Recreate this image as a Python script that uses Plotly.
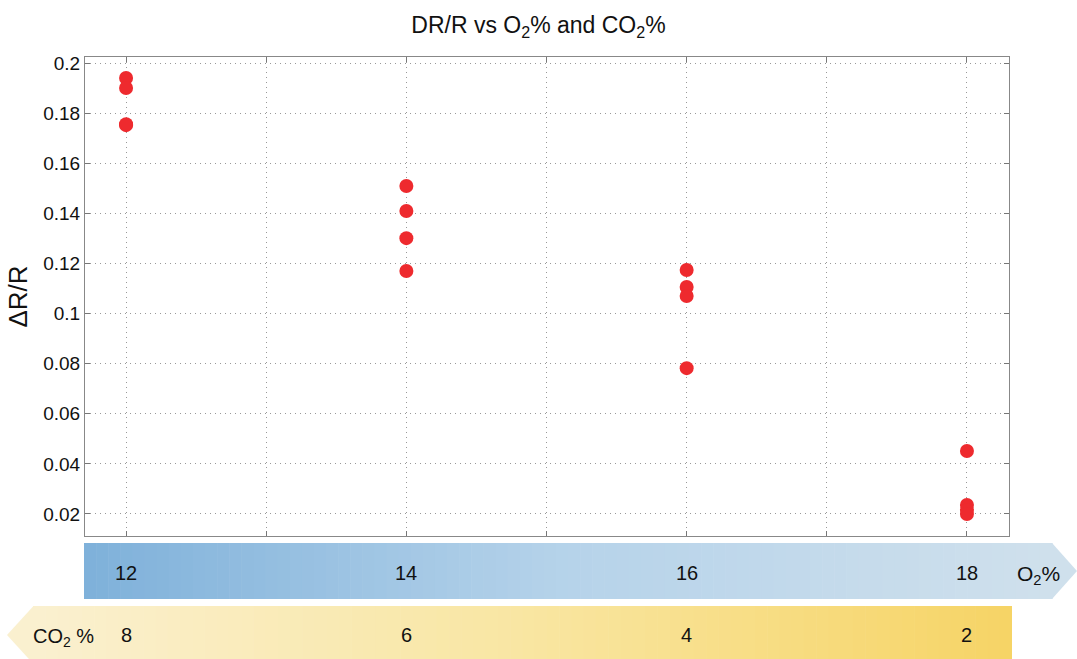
import plotly.graph_objects as go

# ---- data ----
o2_levels = [12, 12, 12, 12, 14, 14, 14, 14, 16, 16, 16, 16, 18, 18, 18, 18]
dr_r = [0.194, 0.190, 0.1752, 0.1756,
        0.1509, 0.1409, 0.1301, 0.1170,
        0.1174, 0.1106, 0.1070, 0.0782,
        0.0451, 0.0236, 0.0216, 0.0200]
o2_ticks = [12, 14, 16, 18]
co2_labels = ["8", "6", "4", "2"]
y_ticks = [0.02, 0.04, 0.06, 0.08, 0.1, 0.12, 0.14, 0.16, 0.18, 0.2]
y_ticktext = ["0.02", "0.04", "0.06", "0.08", "0.1", "0.12", "0.14", "0.16", "0.18", "0.2"]

W, H = 1077, 659
L, R, T, B = 85, 1009, 57, 536


def px(x):
    return (x - L) / (R - L)


def py(y):
    return (B - y) / (B - T)


def lerp_color(c1, c2, t):
    a = [int(c1[i:i + 2], 16) for i in (1, 3, 5)]
    b = [int(c2[i:i + 2], 16) for i in (1, 3, 5)]
    return "rgb(%d,%d,%d)" % tuple(round(a[k] + (b[k] - a[k]) * t) for k in range(3))


def grad3(cl, cm, cr, t):
    if t < 0.5:
        return lerp_color(cl, cm, t * 2)
    return lerp_color(cm, cr, (t - 0.5) * 2)


fig = go.Figure()
fig.add_trace(go.Scatter(
    x=o2_levels, y=dr_r, mode="markers",
    marker=dict(size=14, color="#ee2a2e", line=dict(width=0)),
    showlegend=False, hoverinfo="x+y"))

shapes = []
N = 80
# O2 bar (arrow to right)
x0, x1, tip = 84, 1052, 1077
yt, yb = 543, 599
for i in range(N):
    a = x0 + (x1 - x0) * i / N
    b = x0 + (x1 - x0) * (i + 1) / N + 0.6
    c = grad3("#7fb1da", "#b6d3ea", "#cfe0ec", i / (N - 1))
    shapes.append(dict(type="rect", xref="paper", yref="paper",
                       x0=px(a), x1=px(b), y0=py(yb), y1=py(yt),
                       fillcolor=c, line=dict(width=0), layer="above"))
shapes.append(dict(type="path", xref="paper", yref="paper",
                   path="M %f,%f L %f,%f L %f,%f Z" % (px(x1), py(yt), px(tip), py((yt + yb) / 2), px(x1), py(yb)),
                   fillcolor="#cfe0ec", line=dict(width=0), layer="above"))

# CO2 bar (arrow to left)
cx0, cx1, ctip = 33, 1012, 7
ct, cb = 606, 664
for i in range(N):
    a = cx0 + (cx1 - cx0) * i / N
    b = cx0 + (cx1 - cx0) * (i + 1) / N + 0.6
    c = grad3("#faf0cf", "#f9e6a2", "#f6d466", i / (N - 1))
    shapes.append(dict(type="rect", xref="paper", yref="paper",
                       x0=px(a), x1=px(min(b, cx1)), y0=py(cb), y1=py(ct),
                       fillcolor=c, line=dict(width=0), layer="above"))
shapes.append(dict(type="path", xref="paper", yref="paper",
                   path="M %f,%f L %f,%f L %f,%f Z" % (px(cx0 + 0.5), py(ct), px(ctip), py((ct + cb) / 2), px(cx0 + 0.5), py(cb)),
                   fillcolor="#faf0cf", line=dict(width=0), layer="above"))

annotations = []
for v in o2_ticks:
    annotations.append(dict(x=v, y=py(573), xref="x", yref="paper", text=str(v),
                            xanchor="center", yanchor="middle",
                            showarrow=False, font=dict(size=20, color="#111")))
for v, lab in zip(o2_ticks, co2_labels):
    annotations.append(dict(x=v, y=py(635), xref="x", yref="paper", text=lab,
                            xanchor="center", yanchor="middle",
                            showarrow=False, font=dict(size=20, color="#111")))
annotations.append(dict(x=px(1038), y=py(575), xref="paper", yref="paper",
                        xanchor="center", yanchor="middle",
                        text="O<sub>2</sub>%", showarrow=False, font=dict(size=21, color="#111")))
annotations.append(dict(x=px(63), y=py(637), xref="paper", yref="paper",
                        xanchor="center", yanchor="middle",
                        text="CO<sub>2</sub> %", showarrow=False, font=dict(size=20, color="#111")))

fig.update_layout(
    width=W, height=H,
    margin=dict(l=L, r=W - R, t=T, b=H - B),
    paper_bgcolor="white", plot_bgcolor="white",
    font=dict(family="Liberation Sans, Arial, sans-serif", color="#111"),
    title=dict(text="DR/R vs O<sub>2</sub>% and CO<sub>2</sub>%", x=0.5, xanchor="center",
               y=1 - 25 / H, yanchor="middle", font=dict(size=23)),
    shapes=shapes, annotations=annotations,
)
fig.update_xaxes(range=[11.707, 18.3], tickmode="linear", tick0=12, dtick=1,
                 showticklabels=False, ticks="inside", ticklen=5, tickcolor="#777",
                 showgrid=True, gridcolor="#999999", griddash="1px,4px", gridwidth=1,
                 showline=True, linecolor="#888", linewidth=1, mirror="ticks", zeroline=False)
fig.update_yaxes(range=[0.0112, 0.2024], tickmode="array", tickvals=y_ticks, ticktext=y_ticktext,
                 ticks="inside", ticklen=5, tickcolor="#777", tickfont=dict(size=19),
                 showgrid=True, gridcolor="#999999", griddash="1px,4px", gridwidth=1,
                 showline=True, linecolor="#888", linewidth=1, mirror="ticks", zeroline=False,
                 title=dict(text="ΔR/R", font=dict(size=26), standoff=8))

fig.write_html("out.html", config={"displayModeBar": False},
               post_script="document.body.style.margin='0';document.body.style.overflow='hidden';")
